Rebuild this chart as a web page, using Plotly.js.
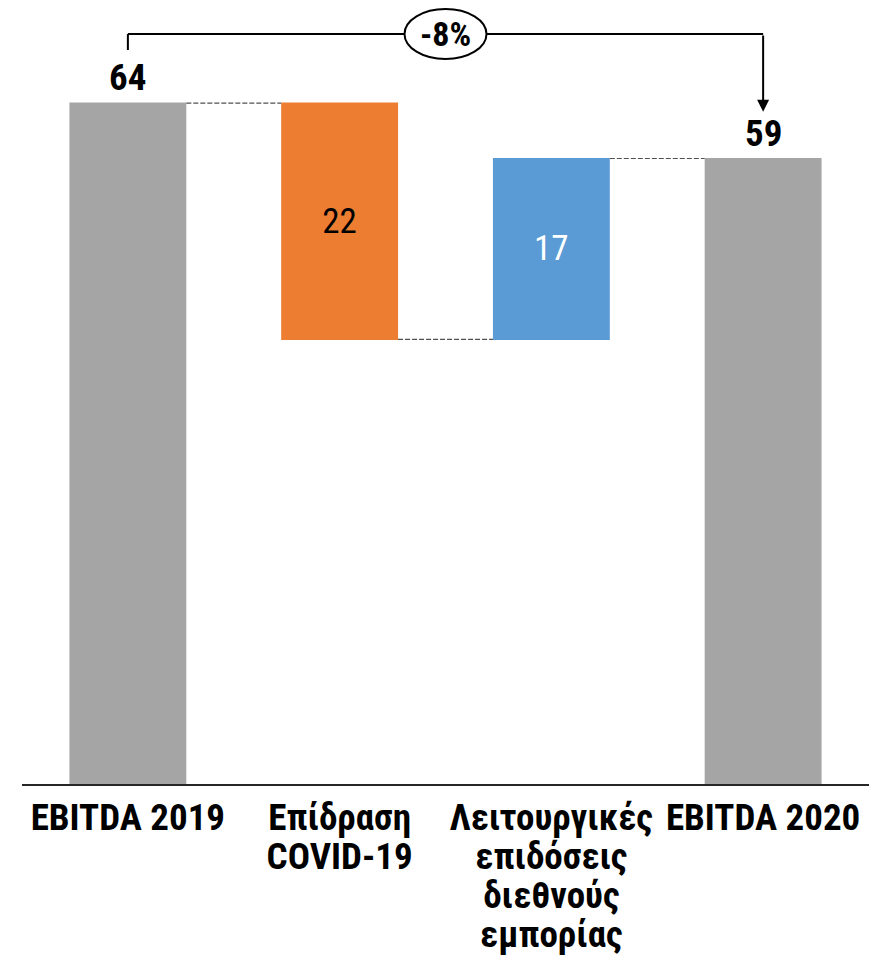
<!DOCTYPE html>
<html>
<head>
<meta charset="utf-8">
<script src="https://cdn.plot.ly/plotly-3.0.1.min.js"></script>
<style>
  body { margin: 0; background: #fff; }
  #plot { width: 882px; height: 957px; }
</style>
</head>
<body>
<div id="plot"></div>
<script>
// Waterfall data
var categories = ['EBITDA 2019', 'Επίδραση<br>COVID-19', 'Λειτουργικές<br>επιδόσεις<br>διεθνούς<br>εμπορίας', 'EBITDA 2020'];
var measures = ['absolute', 'relative', 'relative', 'total'];
var values = [64, -22.2, 17, 0];

var FONT = 'Roboto Condensed, Liberation Sans Narrow, Roboto, sans-serif';

// running totals, used for the labels on the gray bars and the % change
var start = values[0];
var end = values[0] + values[1] + values[2];
var pct = Math.round((end - start) / start * 100);

var innerText = values.map(function (v, i) {
  return measures[i] == 'relative' ? String(Math.round(Math.abs(v))) : '';
});

// tick labels: big glyphs but tight line spacing (spacing follows the base tickfont size)
var tickText = categories.map(function (c) {
  return c.split('<br>').map(function (l) {
    return '<span style="font-size:37px">' + l + '</span>';
  }).join('<br>');
});

var trace = {
  type: 'waterfall',
  x: categories,
  y: values,
  measure: measures,
  text: innerText,
  textposition: 'inside',
  insidetextanchor: 'middle',
  insidetextfont: { family: FONT, size: 35, color: ['#000', '#000', '#fff', '#000'] },
  width: 0.552,
  totals: { marker: { color: '#A5A5A5' } },
  decreasing: { marker: { color: '#ED7D31' } },
  increasing: { marker: { color: '#5B9BD5' } },
  connector: { mode: 'between', line: { color: '#505050', width: 1.2, dash: '5px,2px' } },
  hoverinfo: 'none'
};

var yTop = 70.5;

var layout = {
  width: 882,
  height: 957,
  margin: { l: 22, r: 13, t: 0, b: 173 },
  paper_bgcolor: '#fff',
  plot_bgcolor: '#fff',
  showlegend: false,
  font: { family: FONT, color: '#000' },
  xaxis: {
    type: 'category',
    showline: true,
    linecolor: '#262626',
    linewidth: 2,
    ticks: '',
    showgrid: false,
    tickvals: categories,
    ticktext: tickText,
    ticklabelstandoff: 8,
    tickfont: { family: FONT, size: 30, weight: 'bold', color: '#000' }
  },
  yaxis: { range: [0, 73.7], visible: false, fixedrange: true },
  shapes: [
    // bracket from first bar to last
    { type: 'line', xref: 'x', yref: 'y', x0: 0, x1: 0, y0: 69.0, y1: yTop, line: { color: '#000', width: 2 } },
    { type: 'line', xref: 'x', yref: 'y', x0: 0, x1: 3, y0: yTop, y1: yTop, line: { color: '#000', width: 2 } },
    { type: 'circle', xref: 'x', yref: 'y', xsizemode: 'pixel', ysizemode: 'pixel',
      xanchor: 1.5, yanchor: yTop, x0: -41, x1: 41, y0: -25, y1: 25,
      fillcolor: '#fff', line: { color: '#000', width: 2 } }
  ],
  annotations: [
    { x: 1.5, y: yTop, xref: 'x', yref: 'y', text: pct + '%', showarrow: false,
      font: { family: FONT, size: 34, weight: 'bold', color: '#000' } },
    { x: 3, y: end + 4.4, xref: 'x', yref: 'y', ax: 3, ay: yTop, axref: 'x', ayref: 'y',
      text: '', showarrow: true, arrowhead: 2, arrowsize: 1.2, arrowwidth: 2, arrowcolor: '#000' },
    { x: 0, y: start, xref: 'x', yref: 'y', text: String(Math.round(start)), showarrow: false,
      yanchor: 'bottom', yshift: 2, font: { family: FONT, size: 37, weight: 'bold', color: '#000' } },
    { x: 3, y: end, xref: 'x', yref: 'y', text: String(Math.round(end)), showarrow: false,
      yanchor: 'bottom', yshift: 2, font: { family: FONT, size: 37, weight: 'bold', color: '#000' } }
  ]
};

Plotly.newPlot('plot', [trace], layout, { displayModeBar: false, staticPlot: true });
</script>
</body>
</html>
